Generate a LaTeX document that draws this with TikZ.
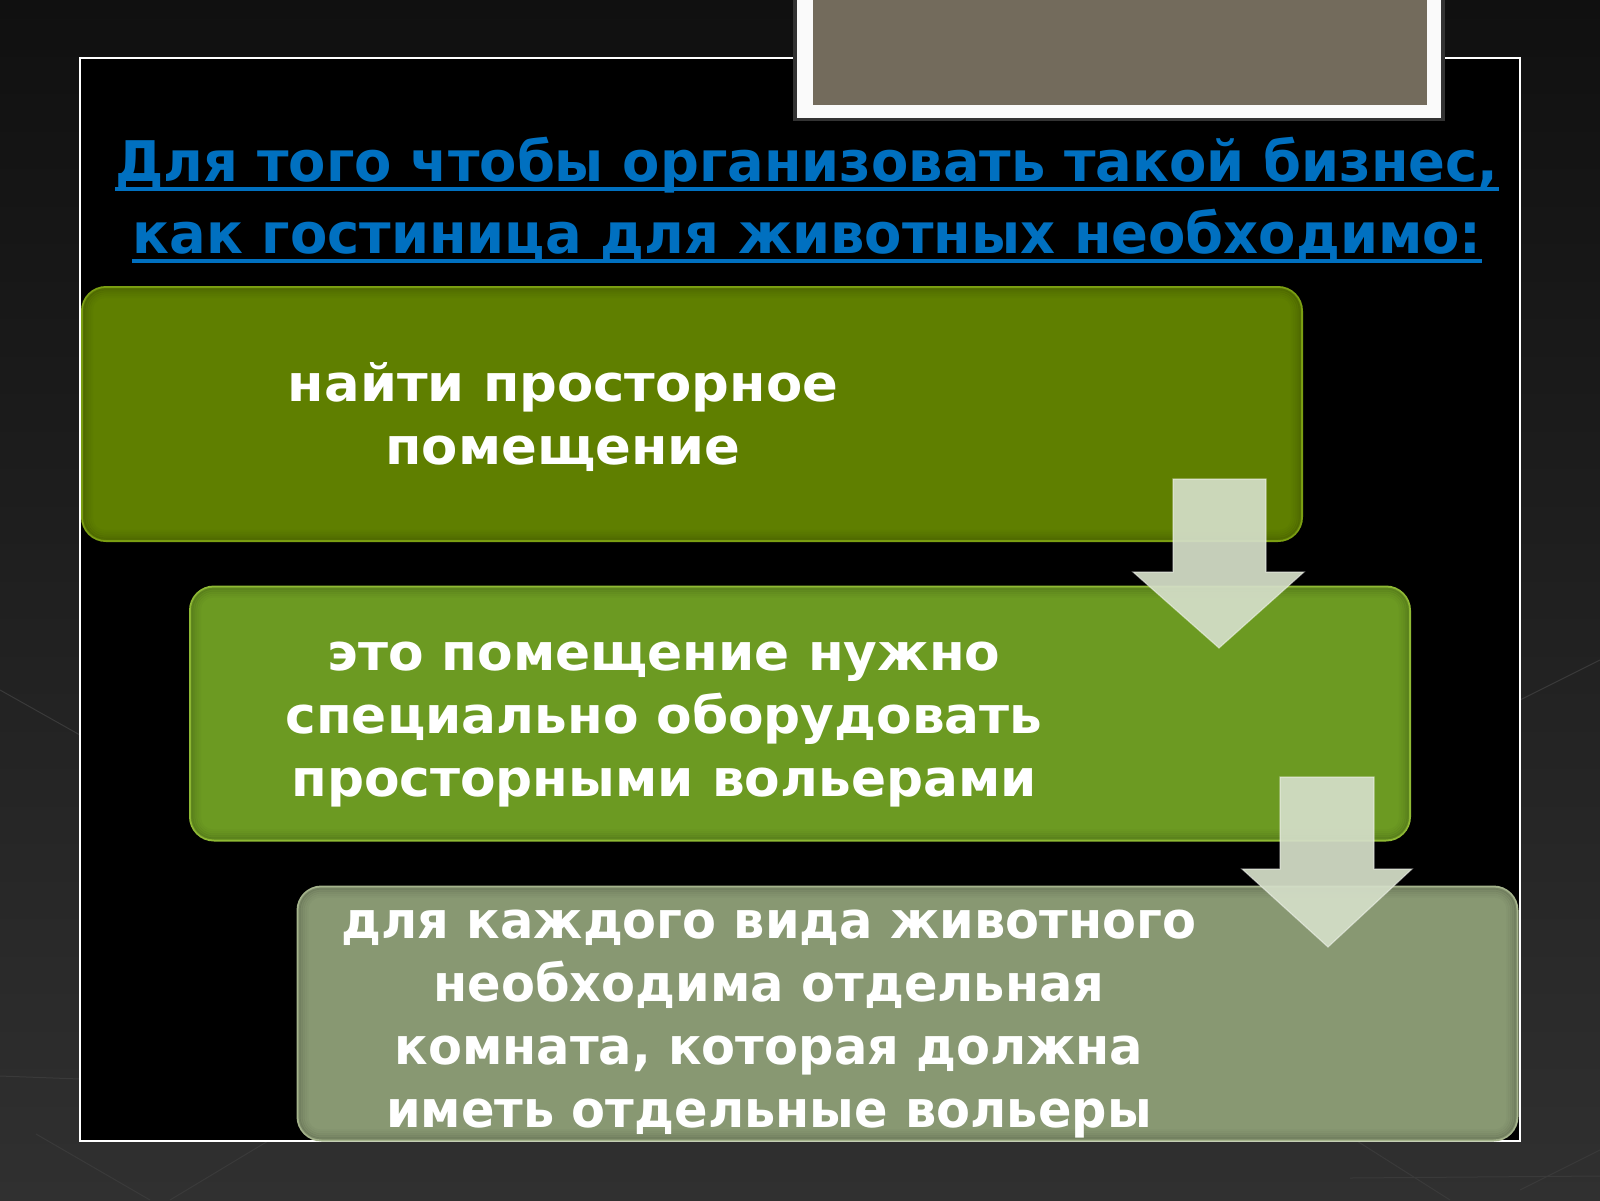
\documentclass[tikz,border=0pt]{standalone}
\usepackage{fontspec}
\setmainfont{DejaVu Sans}
\usetikzlibrary{calc}
\definecolor{titleblue}{RGB}{0,112,192}
\definecolor{bgtop}{RGB}{16,16,16}
\definecolor{bgbot}{RGB}{48,48,48}
\definecolor{bgline}{RGB}{58,58,58}
\definecolor{topgrey}{RGB}{115,107,92}
\definecolor{gA}{RGB}{95,127,0}
\definecolor{gArim}{RGB}{124,160,18}
\definecolor{gB}{RGB}{108,154,34}
\definecolor{gBrim}{RGB}{143,186,52}
\definecolor{gC}{RGB}{136,152,114}
\definecolor{gCrim}{RGB}{165,180,140}
\definecolor{arrowc}{RGB}{212,222,200}
\tikzset{
  gbox/.style={rounded corners=12pt, minimum width=610pt, minimum height=127pt, inner sep=0pt, line width=1pt},
  btext/.style={text=white, font=\bfseries\fontsize{25.5}{31.5}\selectfont, align=center, inner sep=0pt, anchor=base, transform shape},
  ttext/.style={text=titleblue, font=\bfseries\fontsize{28}{36}\selectfont, inner sep=0pt, anchor=base, xscale=0.97, transform shape},
  uline/.style={titleblue, line width=2pt},
  blockarrow/.style={fill=arrowc, fill opacity=0.93, draw=white, draw opacity=0.45, line width=0.6pt, line join=miter},
  innershade/.style={draw=black, line width=1.1pt},
}
\begin{document}
\begin{tikzpicture}[x=0.5pt,y=-0.5pt]
\useasboundingbox (0,0) rectangle (1600,1200);
% background
\shade[top color=bgtop, bottom color=bgbot] (0,0) rectangle (1600,1200);
\draw[bgline, line width=0.5pt] (0,1076) -- (80,1079);
\draw[bgline, line width=0.5pt] (36,1134) -- (150,1200);
\draw[bgline, line width=0.5pt] (170,1200) -- (268,1141);
\draw[bgline, line width=0.5pt] (1357,1141) -- (1450,1200);
\draw[bgline, line width=0.5pt] (1350,1178) -- (1600,1176);
\draw[bgline, line width=0.5pt] (1520,1190) -- (1600,1150);
\draw[bgline, line width=0.5pt] (0,690) -- (80,735);
\draw[bgline, line width=0.5pt] (1520,700) -- (1600,660);
% black panel
\draw[white, line width=0.8pt, fill=black] (80,58) rectangle (1520,1141);
% top framed box
\fill[black!80] (793,-5) rectangle (1445,121);
\fill[white!96!gray] (797,-5) rectangle (1441,118);
\fill[topgrey] (813,-5) rectangle (1427,105);
% title
\node[ttext] (t1) at (807,181) {Для того чтобы организовать такой бизнес,};
\node[ttext] (t2) at (807,253) {как гостиница для животных необходимо:};
\draw[uline] ([yshift=-4pt]t1.base west) -- ([yshift=-4pt]t1.base east);
\draw[uline] ([yshift=-4pt]t2.base west) -- ([yshift=-4pt]t2.base east);
% boxes
\node[gbox, fill=gA, draw=gArim] (b1) at (692,414) {};
\node[gbox, fill=gB, draw=gBrim] (b2) at (800,713.5) {};
\node[gbox, fill=gC, draw=gCrim] (b3) at (907.5,1013.5) {};
\foreach \b in {b1,b2,b3}{
  \foreach \i/\o in {3/0.14,5/0.10,7/0.07,9/0.045,11/0.025}{
    \draw[innershade, opacity=\o, rounded corners={12pt-0.5pt*\i}] ([shift={(\i,\i)}]\b.north west) rectangle ([shift={(-\i,-\i)}]\b.south east);
  }
}
% texts
\node[btext, xscale=1.035] (x1) at (563,464) {найти просторное\\помещение};
\node[btext, xscale=1.015] (x2) at (664,796) {это помещение нужно\\специально оборудовать\\просторными вольерами};
\node[btext, xscale=0.97] (x3) at (769,1127) {для каждого вида животного\\необходима отдельная\\комната, которая должна\\иметь отдельные вольеры};
% arrows
\draw[blockarrow] (1173,479) -- (1266,479) -- (1266,572) -- (1304,572) -- (1219,648) -- (1133,572) -- (1173,572) -- cycle;
\draw[blockarrow] (1280,777) -- (1374,777) -- (1374,869) -- (1412,869) -- (1328,947) -- (1242,869) -- (1280,869) -- cycle;
\end{tikzpicture}
\end{document}
